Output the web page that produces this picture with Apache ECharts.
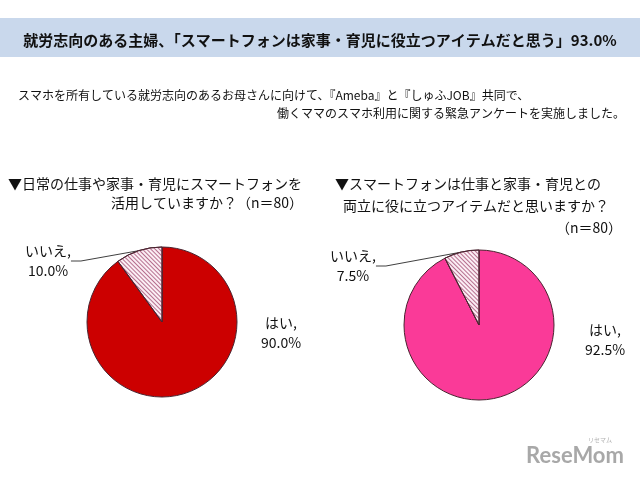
<!DOCTYPE html>
<html>
<head>
<meta charset="utf-8">
<script src="https://cdn.jsdelivr.net/npm/echarts@6/dist/echarts.min.js"></script>
<style>
html,body{margin:0;padding:0;background:#fff;}
#chart{width:640px;height:480px;}
</style>
</head>
<body>
<div id="chart"></div>
<script>
// ---- data ----
var categories = ['はい', 'いいえ'];
var leftValues = [90.0, 10.0];
var rightValues = [92.5, 7.5];
var titleText = '就労志向のある主婦、「スマートフォンは家事・育児に役立つアイテムだと思う」93.0%';
var subLine1 = 'スマホを所有している就労志向のあるお母さんに向けて、『Ameba』と『しゅふJOB』共同で、';
var subLine2 = '働くママのスマホ利用に関する緊急アンケートを実施しました。';
var leftQuestion = ['▼日常の仕事や家事・育児にスマートフォンを', '活用していますか？（n＝80）'];
var rightQuestion = ['▼スマートフォンは仕事と家事・育児との', '両立に役に立つアイテムだと思いますか？', '（n＝80）'];

var FONT = '"Noto Sans CJK JP", "Noto Sans", sans-serif';
var hatch = {
  symbol: 'rect', symbolSize: 1,
  dashArrayX: [[1, 0]], dashArrayY: [1, 2],
  rotation: Math.PI / 4,
  color: 'rgba(160,70,110,0.75)'
};
function buildData(vals, mainColor) {
  return categories.map(function (c, i) {
    var d = { name: c, value: vals[i] };
    if (i === 0) {
      d.itemStyle = { color: mainColor };
      d.labelLine = { show: false };
    } else {
      d.itemStyle = { color: '#fbeef4', decal: hatch };
      d.labelLine = { show: true, length: 10, length2: 10, lineStyle: { color: '#404040', width: 1 } };
    }
    return d;
  });
}
var labelPos = [
  [[281, 333], [48, 261]],
  [[605, 340], [353, 266]]
];
function makeSeries(idx, vals, color, center) {
  return {
    type: 'pie',
    center: center,
    radius: 75,
    startAngle: 90,
    clockwise: true,
    animation: false,
    silent: true,
    data: buildData(vals, color),
    itemStyle: { borderColor: '#4a2430', borderWidth: 1 },
    label: {
      show: true,
      position: 'outside',
      formatter: function (p) { return p.name + ',\n' + p.value.toFixed(1) + '%'; },
      fontFamily: FONT,
      fontSize: 14,
      lineHeight: 20,
      color: '#111',
      align: 'center'
    },
    labelLayout: function (p) {
      var pos = labelPos[idx][p.dataIndex];
      return { x: pos[0], y: pos[1], align: 'center', verticalAlign: 'middle' };
    }
  };
}
var chart = echarts.init(document.getElementById('chart'), null, { renderer: 'canvas' });
var txt = function (x, y, t, opt) {
  return {
    type: 'text', x: x, y: y, silent: true,
    style: Object.assign({ text: t, fontFamily: FONT, fontSize: 14, fill: '#111', textVerticalAlign: 'middle' }, opt || {})
  };
};
chart.setOption({
  backgroundColor: '#ffffff',
  graphic: [
    { type: 'rect', shape: { x: 0, y: 18, width: 640, height: 39 }, style: { fill: '#c9d8ec' }, silent: true, z: -10 },
    txt(320, 40, titleText, { fontWeight: 'bold', fontSize: 15, textAlign: 'center' }),
    txt(18, 95, subLine1, { fontSize: 12 }),
    txt(625, 113, subLine2, { fontSize: 12, textAlign: 'right' }),
    txt(8, 184, leftQuestion[0], { fontSize: 14 }),
    txt(303, 203, leftQuestion[1], { fontSize: 14, textAlign: 'right' }),
    txt(335, 184, rightQuestion[0], { fontSize: 14 }),
    txt(343, 206, rightQuestion[1], { fontSize: 14 }),
    txt(622, 228, rightQuestion[2], { fontSize: 14, textAlign: 'right' }),
    txt(575, 456, 'ReseMom', { fontFamily: 'Lato, "DejaVu Sans", sans-serif', fontWeight: 'bold', fontSize: 22, fill: '#a8a8a8', textAlign: 'center' }),
    txt(600, 440, 'リセマム', { fontSize: 6, fill: '#b0b0b0', textAlign: 'center' })
  ],
  series: [
    makeSeries(0, leftValues, '#cc0000', [162, 322]),
    makeSeries(1, rightValues, '#fa3a98', [479, 325])
  ]
});
</script>
</body>
</html>
